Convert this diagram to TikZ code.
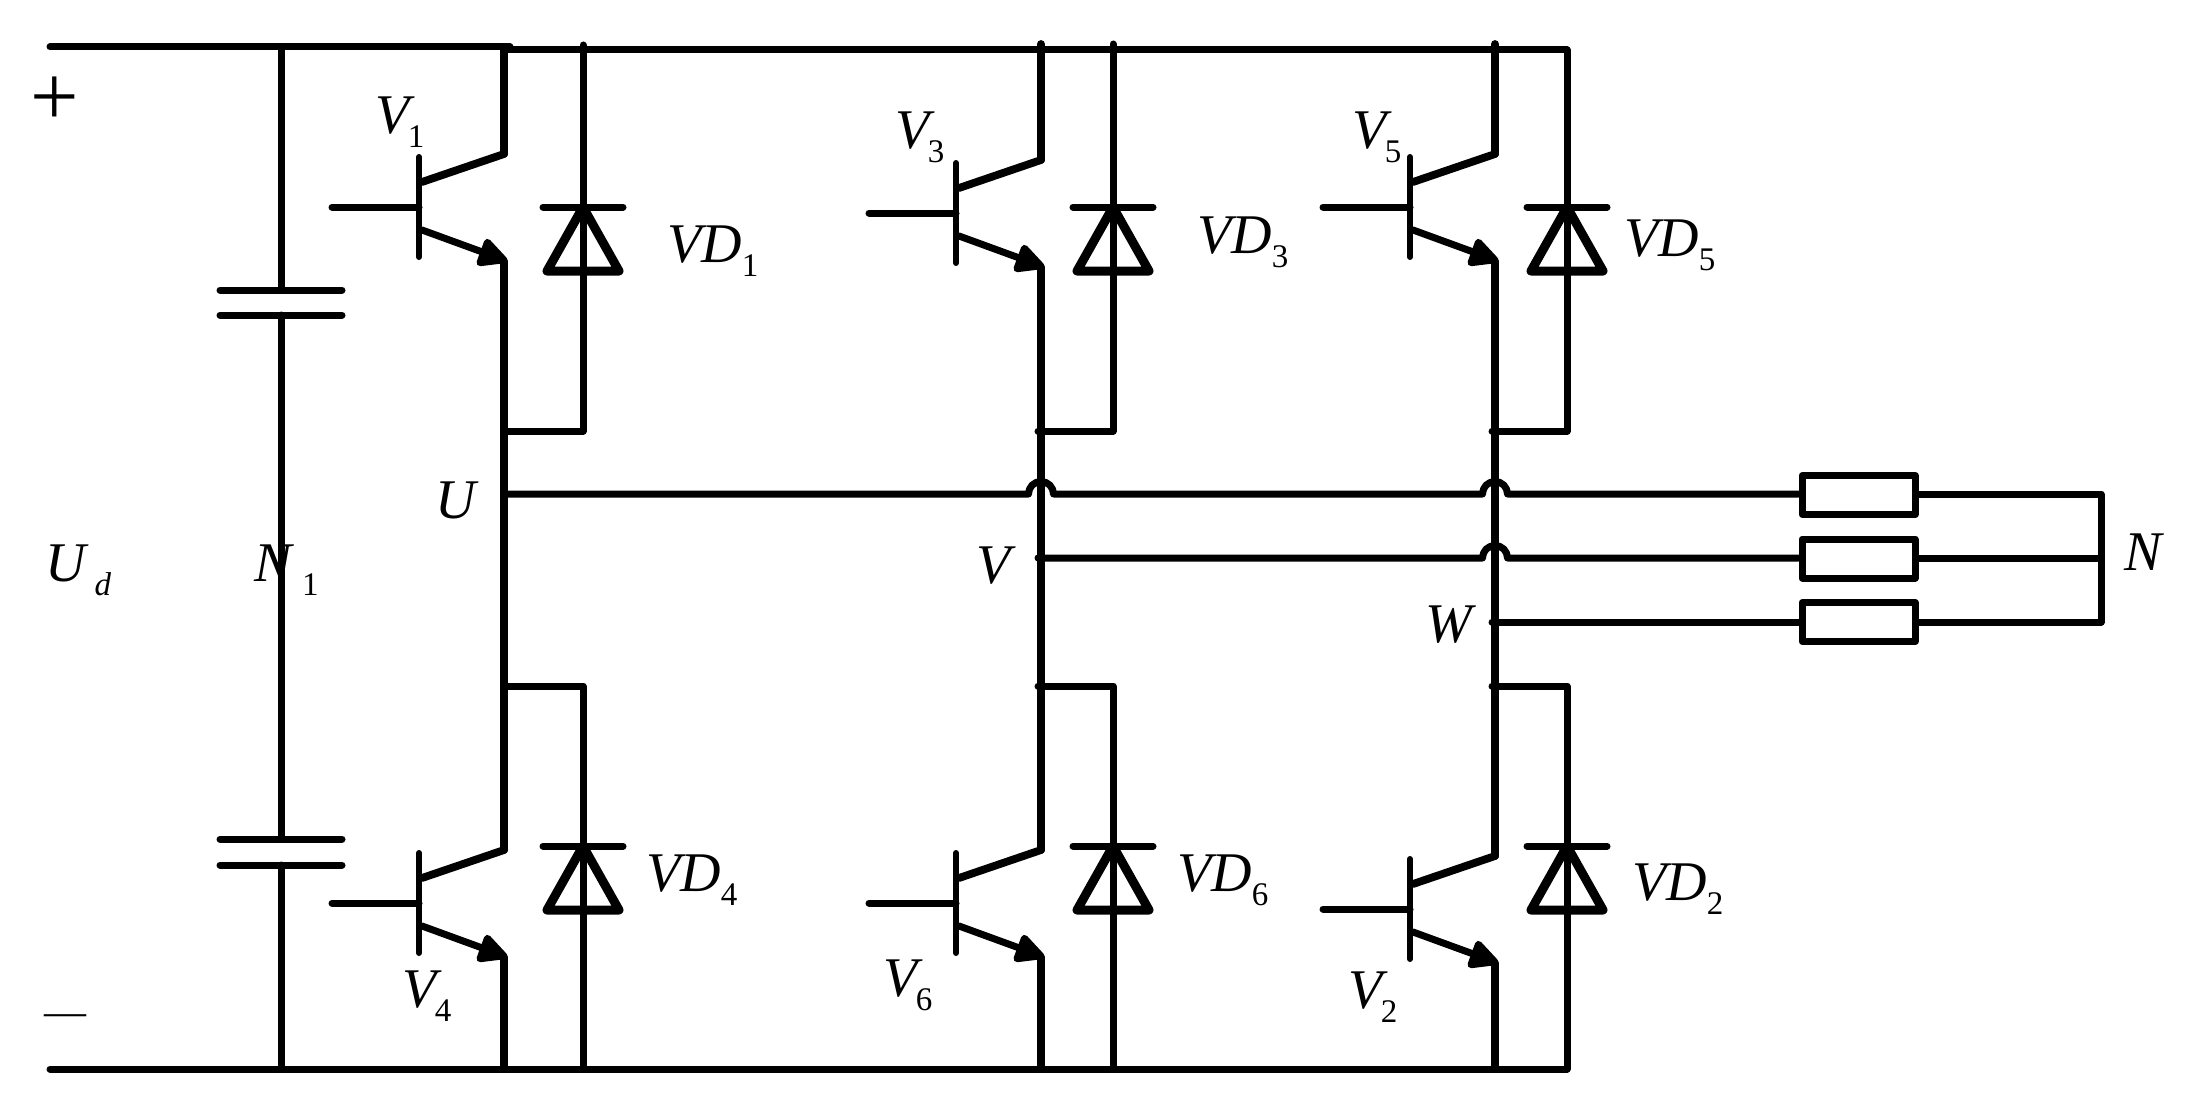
\documentclass[tikz,border=0pt]{standalone}
\usepackage{fontspec}
\setmainfont{Liberation Serif}
\usetikzlibrary{
  positioning,
  arrows.meta
}
\newcommand{\labFont}{\fontsize{56}{60}\selectfont}
\newcommand{\subFont}{\fontsize{33}{35}\selectfont}
\newcommand{\withSub}[3]{\textit{#1}\kern#2pt\raisebox{-14pt}{\subFont #3}}
\begin{document}
\begin{tikzpicture}[
    x=1pt,y=-1pt,
    wire/.style={draw,line width=7pt,line cap=round,line join=round},
    heavyWire/.style={wire,line width=7.8pt},
    emitWire/.style={wire,-{Triangle[length=33pt,width=31pt,round]}},
    loadNode/.style={draw,line width=7pt,line join=round,minimum width=113pt,minimum height=39pt,inner sep=0pt},
    labelNode/.style={inner sep=0pt,anchor=base west,font=\labFont},
  ]
    \useasboundingbox (0,0) rectangle (2199,1113);

    % dc rails
    \coordinate (railA) at (50,47);
    \coordinate (railB) at (510,47);
    \coordinate (railC) at (504,50);
    \coordinate (railD) at (1567,50);
    \coordinate (railE) at (50,1069);
    \coordinate (railF) at (1567,1069);
    \draw[wire] (railA) -- (railB);
    \draw[wire] (railC) -- (railD);
    \draw[wire] (railE) -- (railF);

    % capacitors
    \foreach \id/\ya/\yb in {1/290/315,2/839/865}{
      \coordinate (capTop\id) at (281,\ya);
      \coordinate (capBot\id) at (281,\yb);
      \draw[wire] (220,\ya) -- (342,\ya);
      \draw[wire] (220,\yb) -- (342,\yb);
    }
    \coordinate (capRailT) at (281,47);
    \coordinate (capRailB) at (281,1069);
    \draw[wire] (capRailT) -- (capTop1);
    \draw[wire] (capBot1) -- (capTop2);
    \draw[wire] (capBot2) -- (capRailB);

    % transistors
    \foreach \id/\cx/\by in {1/504/207,3/1041/213,5/1495/207,4/504/903,6/1041/903,2/1495/909}{
      \coordinate (gate\id) at (\cx-172,\by);
      \coordinate (bar\id) at (\cx-85,\by);
      \coordinate (barT\id) at (\cx-85,\by-50);
      \coordinate (barB\id) at (\cx-85,\by+50);
      \coordinate (barC\id) at (\cx-82,\by-25);
      \coordinate (barE\id) at (\cx-82,\by+23);
      \coordinate (col\id) at (\cx,\by-53);
      \coordinate (em\id) at (\cx+3,\by+54);
      \coordinate (leg\id) at (\cx,\by+54);
      \draw[wire] (gate\id) -- (bar\id);
      \draw[wire,line width=6pt] (barT\id) -- (barB\id);
      \draw[heavyWire] (barC\id) -- (col\id);
      \draw[emitWire] (barE\id) -- (em\id);
    }

    % diodes
    \foreach \id/\dx/\ty in {1/583/207,3/1113/207,5/1567/207,4/583/846,6/1113/846,2/1567/846}{
      \coordinate (cathode\id) at (\dx,\ty);
      \coordinate (anodeL\id) at (\dx-36,\ty+64);
      \coordinate (anodeR\id) at (\dx+36,\ty+64);
      \draw[wire] (\dx-40,\ty) -- (\dx+40,\ty);
      \draw[wire,line width=9pt] (cathode\id) -- (anodeL\id) -- (anodeR\id) -- cycle;
    }

    % bridge legs
    \coordinate (topU) at (504,47);
    \coordinate (topV) at (1041,44);
    \coordinate (topW) at (1495,44);
    \coordinate (botU) at (504,1069);
    \coordinate (botV) at (1041,1069);
    \coordinate (botW) at (1495,1069);
    \draw[heavyWire] (topU) -- (col1);
    \draw[heavyWire] (leg1) -- (col4);
    \draw[heavyWire] (leg4) -- (botU);
    \draw[heavyWire] (topV) -- (col3);
    \draw[heavyWire] (leg3) -- (col6);
    \draw[heavyWire] (leg6) -- (botV);
    \draw[heavyWire] (topW) -- (col5);
    \draw[heavyWire] (leg5) -- (col2);
    \draw[heavyWire] (leg2) -- (botW);

    % diode return wires
    \foreach \xl/\xd/\t/\b in {504/583/45/1069,1038/1113/44/1069,1492/1567/50/1069}{
      \coordinate (upLeg) at (\xl,431);
      \coordinate (upDi) at (\xd,431);
      \coordinate (lowLeg) at (\xl,686);
      \coordinate (lowDi) at (\xd,686);
      \draw[wire] (\xd,\t) -- (upDi) -- (upLeg);
      \draw[wire] (lowLeg) -- (lowDi) -- (\xd,\b);
    }

    % loads
    \node[loadNode] (loadU) at (1858.5,495) {};
    \node[loadNode] (loadV) at (1858.5,558.5) {};
    \node[loadNode] (loadW) at (1858.5,622) {};
    \coordinate (busT) at (2101,494);
    \coordinate (busM) at (2101,558);
    \coordinate (busB) at (2101,622);

    % phase wires
    \coordinate (phaseU) at (504,494);
    \coordinate (phaseV) at (1038,558);
    \coordinate (phaseW) at (1492,622);
    \coordinate (jumpUV) at (1028.5,494);
    \coordinate (jumpUW) at (1482.5,494);
    \coordinate (jumpVW) at (1482.5,558);
    \draw[wire] (phaseU) -- (jumpUV) arc[start angle=180,end angle=0,radius=12.5pt]
      -- (jumpUW) arc[start angle=180,end angle=0,radius=12.5pt] -- (loadU.west |- busT);
    \draw[wire] (phaseV) -- (jumpVW) arc[start angle=180,end angle=0,radius=12.5pt] -- (loadV.west |- busM);
    \draw[wire] (phaseW) -- (loadW.west |- busB);
    \draw[wire] (loadU.east |- busT) -- (busT) -- (busB) -- (loadW.east |- busB);
    \draw[wire] (loadV.east |- busM) -- (busM);

    % labels
    \node[labelNode] (plus) at (30,125) {\fontsize{86}{88}\selectfont +};
    \node[labelNode] (minus) at (44,1025) {\fontsize{42}{44}\selectfont —};
    \node[labelNode] (ud) at (45,581) {\withSub{U}{6}{\textit{d}}};
    \node[labelNode] (n1) at (254,581) {\withSub{N}{8}{1}};
    \node[labelNode] (u) at (435,518) {\textit{U}};
    \node[labelNode] (v) at (976,583) {\textit{V}};
    \node[labelNode] (w) at (1425,642) {\textit{W}};
    \node[labelNode] (n) at (2124,570) {\textit{N}};

    \node[labelNode] (v1) at (375,133) {\withSub{V}{-7}{1}};
    \node[labelNode] (v3) at (895,148) {\withSub{V}{-7}{3}};
    \node[labelNode] (v5) at (1352,148) {\withSub{V}{-7}{5}};
    \node[labelNode] (v4) at (402,1007) {\withSub{V}{-7}{4}};
    \node[labelNode] (v6) at (883,996) {\withSub{V}{-7}{6}};
    \node[labelNode] (v2) at (1348,1008) {\withSub{V}{-7}{2}};

    \node[labelNode] (vd1) at (667,262) {\withSub{VD}{0}{1}};
    \node[labelNode] (vd3) at (1197,253) {\withSub{VD}{0}{3}};
    \node[labelNode] (vd5) at (1624,256) {\withSub{VD}{0}{5}};
    \node[labelNode] (vd4) at (646,891) {\withSub{VD}{0}{4}};
    \node[labelNode] (vd6) at (1177,891) {\withSub{VD}{0}{6}};
    \node[labelNode] (vd2) at (1632,900) {\withSub{VD}{0}{2}};
  \end{tikzpicture}
\end{document}
